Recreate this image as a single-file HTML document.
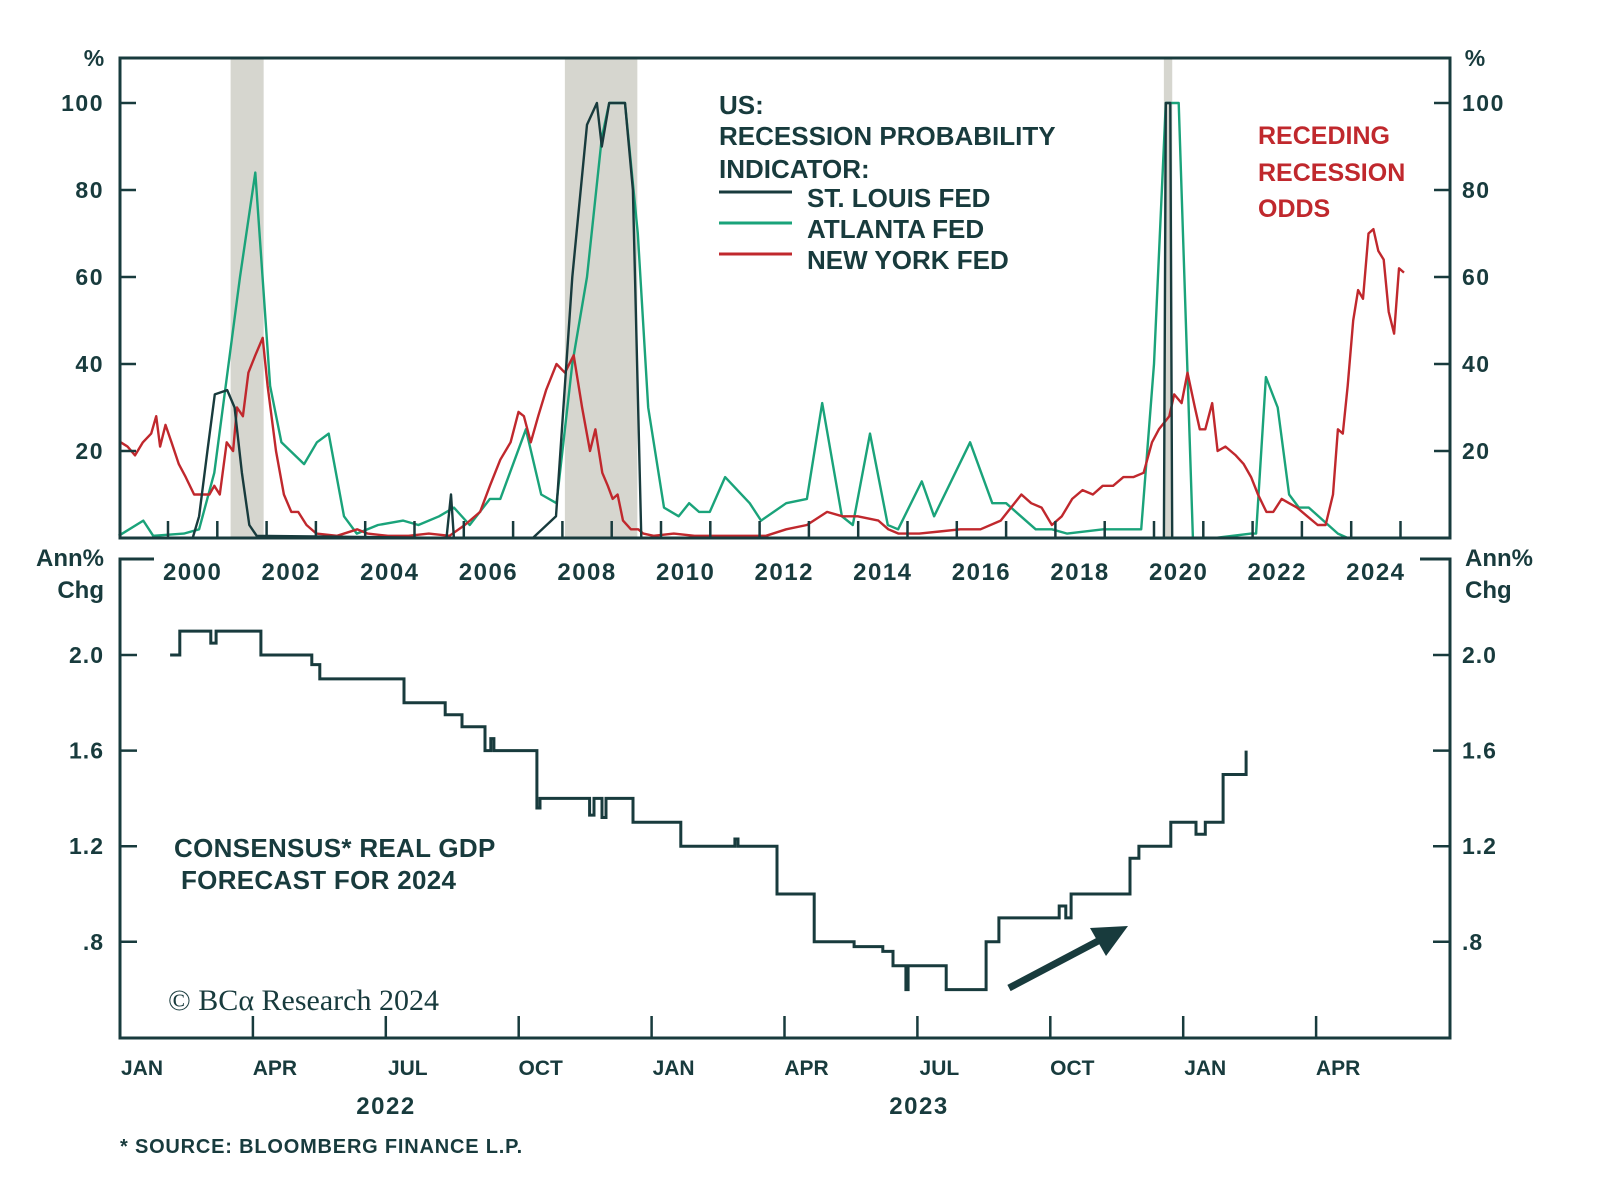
<!DOCTYPE html>
<html><head><meta charset="utf-8"><style>
html,body{margin:0;padding:0;background:#fff;}
svg{display:block;font-family:"Liberation Sans",sans-serif;}
.t{fill:#183b3d;font-weight:bold;}
</style></head><body>
<svg id="chart" width="1600" height="1177" viewBox="0 0 1600 1177">
<g id="topPanel"></g>
<g id="botPanel"></g>
</svg>
<script>
// ---------- top chart data ----------
const recessions = [[2001.27,2001.94],[2008.05,2009.52],[2020.2,2020.37]];
const yTicksTop = [20,40,60,80,100];
const yearLabels = [2000,2002,2004,2006,2008,2010,2012,2014,2016,2018,2020,2022,2024];
const stlDates = [1999.0,2000.5,2000.63,2000.8,2000.95,2001.2,2001.35,2001.5,2001.65,2001.8,2005.65,2005.74,2005.8,2007.4,2007.87,2008.2,2008.5,2008.7,2008.8,2008.95,2009.27,2009.43,2009.6,2019.9,2020.2,2020.24,2020.33,2020.37,2025.1];
const stlVals  = [0,0,5,20,33,34,30,15,3,0.5,0,10,0,0,5,60,95,100,90,100,100,80,0,0,0,100,100,0,0];
const atlDates = [1999.0,1999.5,1999.7,2000.32,2000.63,2000.94,2001.46,2001.77,2002.07,2002.3,2002.76,2003.02,2003.26,2003.57,2003.83,2004.26,2004.77,2005.08,2005.5,2005.8,2006.12,2006.53,2006.74,2007.26,2007.57,2007.88,2008.2,2008.5,2008.8,2008.95,2009.27,2009.53,2009.74,2010.06,2010.36,2010.57,2010.77,2010.99,2011.3,2011.8,2012.03,2012.54,2012.96,2013.27,2013.67,2013.89,2014.24,2014.6,2014.81,2015.29,2015.54,2016.27,2016.72,2017.0,2017.3,2017.6,2017.93,2018.24,2018.97,2019.37,2019.74,2020.0,2020.24,2020.5,2020.79,2021.24,2021.97,2022.07,2022.27,2022.51,2022.74,2022.94,2023.14,2023.73,2023.93];
const atlVals  = [0.5,4,0.5,1,2,15,60,84,35,22,17,22,24,5,1,3,4,3,5,7,3,9,9,25,10,8,40,60,92,100,100,70,30,7,5,8,6,6,14,8,4,8,9,31,5,3,24,3,2,13,5,22,8,8,5,2,2,1,2,2,2,40,100,100,0,0,1,1,37,30,10,7,7,1,0];
const nyDates = [1999.04,1999.18,1999.33,1999.49,1999.66,1999.76,1999.84,1999.95,2000.07,2000.22,2000.36,2000.53,2000.69,2000.84,2000.94,2001.05,2001.19,2001.32,2001.4,2001.52,2001.63,2001.77,2001.92,2002.02,2002.19,2002.35,2002.5,2002.64,2002.81,2003.01,2003.43,2003.84,2004.05,2004.46,2004.88,2005.29,2005.71,2006.02,2006.33,2006.53,2006.74,2006.95,2007.11,2007.22,2007.36,2007.51,2007.67,2007.88,2008.05,2008.23,2008.4,2008.56,2008.67,2008.81,2008.92,2009.02,2009.12,2009.23,2009.39,2009.54,2009.64,2009.85,2010.26,2010.68,2011.09,2011.51,2012.13,2012.54,2012.96,2013.37,2013.68,2013.99,2014.41,2014.61,2014.82,2015.24,2015.65,2016.07,2016.48,2016.89,2017.1,2017.31,2017.51,2017.72,2017.93,2018.13,2018.34,2018.55,2018.76,2018.96,2019.17,2019.38,2019.58,2019.79,2019.96,2020.1,2020.31,2020.41,2020.56,2020.68,2020.83,2020.93,2021.04,2021.18,2021.29,2021.45,2021.66,2021.82,2021.97,2022.11,2022.28,2022.42,2022.59,2022.74,2022.9,2023.11,2023.32,2023.48,2023.63,2023.73,2023.83,2023.93,2024.04,2024.14,2024.24,2024.35,2024.45,2024.55,2024.66,2024.76,2024.87,2024.97,2025.07];
const nyVals  = [22,21,19,22,24,28,21,26,22,17,14,10,10,10,12,10,22,20,30,28,38,42,46,35,20,10,6,6,3,1,0.5,2,1,0.5,0.5,1,0.5,3,6,12,18,22,29,28,22,28,34,40,38,42,30,20,25,15,12,9,10,4,2,2,1,0.5,1,0.5,0.5,0.5,0.5,2,3,6,5,5,4,2,1,1,1.5,2,2,4,7,10,8,7,3,5,9,11,10,12,12,14,14,15,22,25,28,33,31,38,30,25,25,31,20,21,19,17,14,10,6,6,9,8,7,5,3,3,10,25,24,35,50,57,55,70,71,66,64,52,47,62,61];

// ---------- bottom chart data ----------
const monthLabels = ["JAN","APR","JUL","OCT","JAN","APR","JUL","OCT","JAN","APR"];
const yTicksBot = [0.8,1.2,1.6,2.0];
const yTickLabelsBot = [".8","1.2","1.6","2.0"];
const yearLabelsBot = ["2022","2023"];
const gdpMonths = [1.13,1.35,2.05,2.17,3.18,4.33,4.51,6.41,7.34,7.72,8.24,8.37,8.44,9.41,9.48,10.6,10.7,10.88,10.97,11.58,12.66,13.88,13.95,14.83,15.67,16.57,17.22,17.45,17.74,17.79,18.65,19.55,19.84,21.2,21.35,21.47,22.8,23.0,23.72,24.29,24.5,24.9,25.42];
const gdpVals   = [2.0,2.1,2.05,2.1,2.0,1.96,1.9,1.8,1.75,1.7,1.6,1.65,1.6,1.36,1.4,1.33,1.4,1.32,1.4,1.3,1.2,1.23,1.2,1.0,0.8,0.78,0.76,0.7,0.6,0.7,0.6,0.8,0.9,0.95,0.9,1.0,1.15,1.2,1.3,1.25,1.3,1.5,1.6];

const NS="http://www.w3.org/2000/svg";
const DARK="#183b3d", GREEN="#1aa37a", RED="#c0282d";
function mk(parent,tag,attrs,text){const e=document.createElementNS(NS,tag);for(const k in attrs)e.setAttribute(k,attrs[k]);if(text!==undefined)e.textContent=text;parent.appendChild(e);return e;}

const TL=120,TR=1450,TT=58,TB=538;
const xT=y=>168+(y-2000)*49.3;
const yT=v=>TB-v*(TB-103)/100;
const topG=document.getElementById('topPanel');
recessions.forEach(r=>{
  const e=mk(topG,'rect',{x:xT(r[0]),y:TT,width:xT(r[1])-xT(r[0]),height:TB-TT,fill:'#d6d6cf'});
  
  
});
function line(parent,xs,vs,fx,fy,color,w,name){
  let d='';xs.forEach((x,i)=>{d+=(i?'L':'M')+fx(x).toFixed(1)+','+fy(vs[i]).toFixed(1);});
  const e=mk(parent,'path',{d:d,fill:'none',stroke:color,'stroke-width':w,'stroke-linejoin':'round'});
  
  
}
line(topG,atlDates,atlVals,xT,yT,GREEN,2.4,'atlanta-fed-line');
line(topG,nyDates,nyVals,xT,yT,RED,2.4,'new-york-fed-line');
line(topG,stlDates,stlVals,xT,yT,DARK,2.4,'st-louis-fed-line');
const fr=mk(topG,'rect',{x:TL,y:TT,width:TR-TL,height:TB-TT,fill:'none',stroke:DARK,'stroke-width':3});


yTicksTop.forEach(v=>{
  mk(topG,'line',{x1:TL,x2:TL+16,y1:yT(v),y2:yT(v),stroke:DARK,'stroke-width':2.5});
  mk(topG,'line',{x1:TR-16,x2:TR,y1:yT(v),y2:yT(v),stroke:DARK,'stroke-width':2.5});
  const a=mk(topG,'text',{x:104,y:yT(v)+8,'text-anchor':'end','font-size':23,class:'t','letter-spacing':'1.5'},v);
  
  
  const b=mk(topG,'text',{x:1462,y:yT(v)+8,'font-size':23,class:'t','letter-spacing':'1.5'},v);
  
  
});
for(let y=2000;y<=2025;y++){mk(topG,'line',{x1:xT(y),x2:xT(y),y1:TB,y2:TB-17,stroke:DARK,'stroke-width':2.5});}
yearLabels.forEach(y=>{
  const e=mk(topG,'text',{x:xT(y+0.5),y:580,'text-anchor':'middle','font-size':24,class:'t','letter-spacing':'1.5'},y);
  
  
});
mk(topG,'text',{x:94,y:66,'text-anchor':'middle','font-size':23,class:'t'},'%');
mk(topG,'text',{x:1475,y:66,'text-anchor':'middle','font-size':23,class:'t'},'%');
const lg=mk(topG,'g',{});


[['US:',114],['RECESSION PROBABILITY',145],['INDICATOR:',178]].forEach(t=>mk(lg,'text',{x:719,y:t[1],'font-size':26,class:'t','letter-spacing':'0'},t[0]));
[['ST. LOUIS FED',DARK,192],['ATLANTA FED',GREEN,223],['NEW YORK FED',RED,254]].forEach(t=>{
  const g=mk(lg,'g',{});
  
  
  mk(g,'line',{x1:719,x2:792,y1:t[2],y2:t[2],stroke:t[1],'stroke-width':3});
  mk(g,'text',{x:807,y:t[2]+15,'font-size':26,class:'t'},t[0]);
});
const ann=mk(topG,'g',{});


[['RECEDING',144],['RECESSION',181],['ODDS',217]].forEach(t=>mk(ann,'text',{x:1258,y:t[1],'font-size':25,'font-weight':'bold',fill:RED},t[0]));

const BL=120,BR=1450,BT=559,BB=1038;
const xB=m=>120+m*44.3;
const yB=v=>655-(v-2.0)*239;
const botG=document.getElementById('botPanel');
let d='';
gdpMonths.forEach((m,i)=>{
  if(i===0) d+='M'+xB(m).toFixed(1)+','+yB(gdpVals[0]).toFixed(1);
  else d+='L'+xB(m).toFixed(1)+','+yB(gdpVals[i-1]).toFixed(1)+'L'+xB(m).toFixed(1)+','+yB(gdpVals[i]).toFixed(1);
});
const gl=mk(botG,'path',{d:d,fill:'none',stroke:DARK,'stroke-width':3});


const ax=mk(botG,'path',{d:`M${BL+34},${BT}H${BL}V${BB}H${BR}V${BT}H${BR-30}`,fill:'none',stroke:DARK,'stroke-width':3});


yTicksBot.forEach((v,i)=>{
  mk(botG,'line',{x1:BL,x2:BL+17,y1:yB(v),y2:yB(v),stroke:DARK,'stroke-width':2.5});
  mk(botG,'line',{x1:BR-17,x2:BR,y1:yB(v),y2:yB(v),stroke:DARK,'stroke-width':2.5});
  const a=mk(botG,'text',{x:104,y:yB(v)+8,'text-anchor':'end','font-size':23,class:'t','letter-spacing':'1'},yTickLabelsBot[i]);
  
  
  const b=mk(botG,'text',{x:1462,y:yB(v)+8,'font-size':23,class:'t','letter-spacing':'1'},yTickLabelsBot[i]);
  
  
});
monthLabels.forEach((l,i)=>{
  if(i>0) mk(botG,'line',{x1:xB(i*3),x2:xB(i*3),y1:BB,y2:BB-22,stroke:DARK,'stroke-width':2.5});
  const e=mk(botG,'text',{x:xB(i*3)+22,y:1075,'text-anchor':'middle','font-size':21,class:'t'},l);
  
  
});
yearLabelsBot.forEach((l,i)=>{
  const e=mk(botG,'text',{x:i===0?386:919,y:1114,'text-anchor':'middle','font-size':24,class:'t','letter-spacing':'1.5'},l);
  
  
});
[['Ann%',566],['Chg',598]].forEach(t=>{
  mk(botG,'text',{x:104,y:t[1],'text-anchor':'end','font-size':24,class:'t'},t[0]);
  mk(botG,'text',{x:1465,y:t[1],'font-size':24,class:'t'},t[0]);
});
const ct=mk(botG,'g',{});


mk(ct,'text',{x:174,y:857,'font-size':26,class:'t','letter-spacing':'0.3'},'CONSENSUS* REAL GDP');
mk(ct,'text',{x:181,y:889,'font-size':26,class:'t','letter-spacing':'0.3'},'FORECAST FOR 2024');
const cp=mk(botG,'text',{x:168,y:1010,'font-size':30,fill:DARK,'font-family':'Liberation Serif, serif'},'© BCα Research 2024');


const ar=mk(botG,'g',{});


mk(ar,'line',{x1:1009,y1:988,x2:1100,y2:940,stroke:DARK,'stroke-width':7});
mk(ar,'polygon',{points:'1128,926 1090,928 1106,956',fill:DARK});
const src=mk(botG,'text',{x:120,y:1153,'font-size':20,class:'t','letter-spacing':'0.8'},'* SOURCE: BLOOMBERG FINANCE L.P.');


</script>
</body></html>
